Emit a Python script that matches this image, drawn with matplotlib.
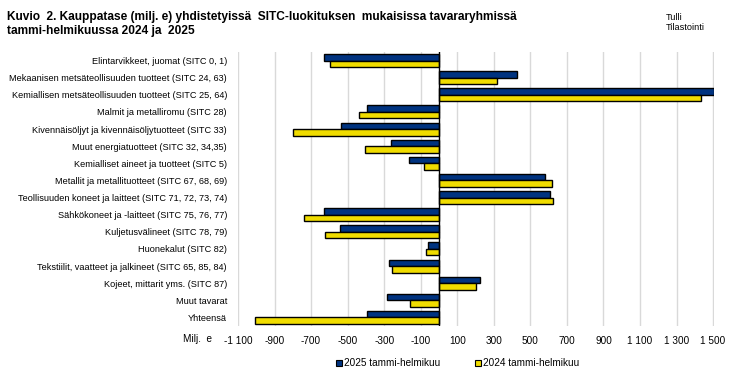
import matplotlib
matplotlib.use("Agg")
import matplotlib.pyplot as plt
import numpy as np
from matplotlib.lines import Line2D

categories = [
    "Elintarvikkeet, juomat (SITC 0, 1)",
    "Mekaanisen metsäteollisuuden tuotteet (SITC 24, 63)",
    "Kemiallisen metsäteollisuuden tuotteet (SITC 25, 64)",
    "Malmit ja metalliromu (SITC 28)",
    "Kivennäisöljyt ja kivennäisöljytuotteet (SITC 33)",
    "Muut energiatuotteet (SITC 32, 34,35)",
    "Kemialliset aineet ja tuotteet (SITC 5)",
    "Metallit ja metallituotteet (SITC 67, 68, 69)",
    "Teollisuuden koneet ja laitteet (SITC 71, 72, 73, 74)",
    "Sähkökoneet ja -laitteet (SITC 75, 76, 77)",
    "Kuljetusvälineet (SITC 78, 79)",
    "Huonekalut (SITC 82)",
    "Tekstiilit, vaatteet ja jalkineet (SITC 65, 85, 84)",
    "Kojeet, mittarit yms. (SITC 87)",
    "Muut tavarat",
    "Yhteensä",
]
values_2025 = [-631, 429, 1505, -395, -536, -264, -162, 582, 609, -631, -540, -58, -271, 227, -282, -393]
values_2024 = [-595, 320, 1433, -440, -798, -405, -80, 620, 626, -740, -626, -73, -258, 205, -157, -1008]
series_labels = ["2025 tammi-helmikuu", "2024 tammi-helmikuu"]
tick_values = list(range(-1100, 1501, 200))
tick_labels = [f"{v:,}".replace(",", "\u00a0") for v in tick_values]

c2025 = "#003380"
c2024 = "#f0dc00"

plt.rcParams['font.family'] = ['Liberation Sans', 'DejaVu Sans']

fig = plt.figure(figsize=(7.37, 3.78), dpi=100)
ax = fig.add_axes([238/737, 1-326/378, (714-238)/737, (326-52)/378])

y = np.arange(len(categories))
h = 0.38
ax.barh(y - h/2, values_2025, height=h, color=c2025, edgecolor="black", linewidth=1.0, zorder=3)
ax.barh(y + h/2, values_2024, height=h, color=c2024, edgecolor="black", linewidth=1.0, zorder=3)

ax.set_xlim(-1100, 1505)
ax.set_ylim(len(categories) - 0.5, -0.5)
ax.set_xticks(tick_values)
ax.set_xticklabels(tick_labels, fontsize=7.2)
ax.set_yticks(y)
ax.set_yticklabels(categories, fontsize=6.6)
ax.tick_params(length=0, axis="both")
ax.tick_params(axis="y", pad=8)
ax.tick_params(axis="x", pad=7)
for s in ax.spines.values():
    s.set_visible(False)
ax.grid(axis="x", color="#d9d9d9", linewidth=1.0, zorder=0)
ax.axvline(0, color="black", linewidth=1.0, zorder=4)

fig.text(183/737, 1-339/378, "Milj.  e", fontsize=7.2, va="center", ha="left")

fig.text(7/737, 1-17/378, "Kuvio  2. Kauppatase (milj. e) yhdistetyissä  SITC-luokituksen  mukaisissa tavararyhmissä",
         fontsize=8.6, fontweight="bold", va="center", ha="left",
         family=['Liberation Sans Narrow', 'Liberation Sans'])
fig.text(7/737, 1-31/378, "tammi-helmikuussa 2024 ja  2025",
         fontsize=8.6, fontweight="bold", va="center", ha="left",
         family=['Liberation Sans Narrow', 'Liberation Sans'])
fig.text(666/737, 1-17/378, "Tulli", fontsize=6.6, va="center", ha="left")
fig.text(666/737, 1-28/378, "Tilastointi", fontsize=6.6, va="center", ha="left")

handles = [Line2D([], [], marker="s", linestyle="none", markersize=5, markerfacecolor=c, markeredgecolor="black", markeredgewidth=0.8)
           for c in (c2025, c2024)]
fig.legend(handles, series_labels, loc="center", bbox_to_anchor=(458/737, 1-363/378), ncol=2,
           frameon=False, fontsize=7.2, handlelength=0.6, handletextpad=0.2, columnspacing=3.5)

fig.savefig("out.png", dpi=100)
